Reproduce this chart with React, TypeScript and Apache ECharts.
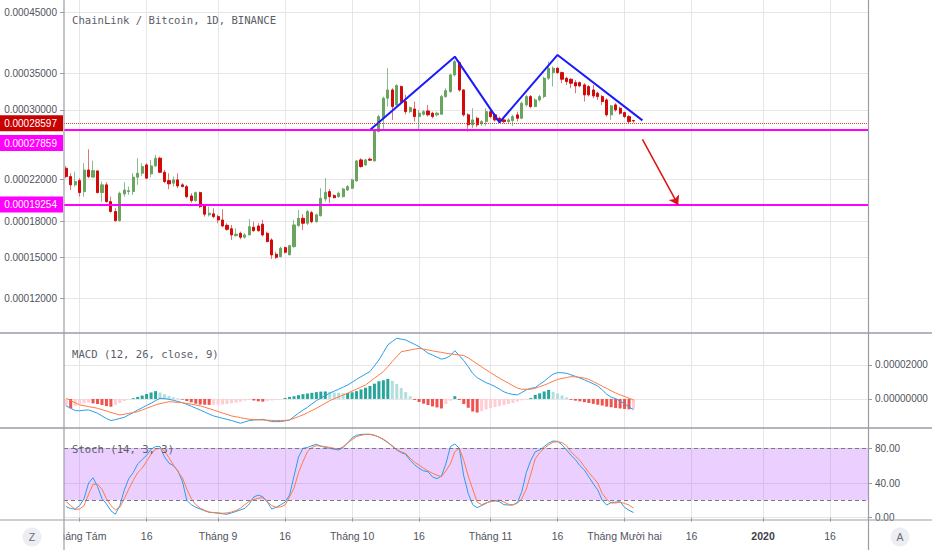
import React, { useEffect, useRef } from "react";
import * as echarts from "echarts";

// ---------- data (prices in units of 0.0001 BTC) ----------
const UNIT = 1e-4;
const MACD_UNIT = 1e-6;
const SCALE_OFFSET = 0.8; // the price scale of the reference is log(price + 0.00008)
const START_DATE = Date.UTC(2019, 6, 29);
const DAY_COUNT = 180;

// [open, close, low, high]
const ohlc: number[][] = [
  [2.315, 2.228, 2.212, 2.34], [2.228, 2.144, 2.093, 2.263], [2.144, 2.177, 2.126, 2.279], [2.187, 2.067, 2.028, 2.212],
  [2.077, 2.297, 2.028, 2.369], [2.297, 2.228, 2.212, 2.524], [2.222, 2.29, 2.222, 2.397], [2.287, 2.067, 2.061, 2.29],
  [2.067, 2.144, 1.98, 2.177], [2.144, 1.98, 1.971, 2.171], [1.98, 1.888, 1.878, 2.028], [1.888, 1.806, 1.797, 1.919],
  [1.806, 2.061, 1.797, 2.077], [2.054, 2.093, 2.028, 2.171], [2.077, 2.086, 2.045, 2.126], [2.077, 2.222, 2.045, 2.263],
  [2.222, 2.263, 2.144, 2.424], [2.263, 2.333, 2.235, 2.369], [2.351, 2.212, 2.201, 2.369], [2.256, 2.34, 2.222, 2.405],
  [2.34, 2.424, 2.333, 2.461], [2.424, 2.273, 2.263, 2.442], [2.273, 2.177, 2.161, 2.297], [2.187, 2.154, 2.1, 2.263],
  [2.161, 2.194, 2.126, 2.228], [2.194, 2.133, 2.11, 2.263], [2.144, 2.126, 2.12, 2.161], [2.126, 2.028, 2.012, 2.144],
  [2.035, 1.99, 1.971, 2.061], [1.99, 2.067, 1.98, 2.077], [2.067, 1.934, 1.919, 2.077], [1.94, 1.864, 1.842, 1.95],
  [1.858, 1.873, 1.842, 1.934], [1.867, 1.842, 1.827, 1.919], [1.842, 1.812, 1.783, 1.858], [1.812, 1.759, 1.748, 1.909],
  [1.765, 1.73, 1.718, 1.783], [1.735, 1.682, 1.64, 1.768], [1.676, 1.688, 1.668, 1.739], [1.696, 1.663, 1.646, 1.71],
  [1.663, 1.682, 1.651, 1.696], [1.682, 1.753, 1.682, 1.821], [1.748, 1.718, 1.71, 1.797], [1.759, 1.718, 1.71, 1.783],
  [1.774, 1.682, 1.668, 1.812], [1.696, 1.626, 1.621, 1.71], [1.64, 1.519, 1.487, 1.654], [1.524, 1.5, 1.487, 1.545],
  [1.505, 1.572, 1.5, 1.585], [1.577, 1.54, 1.529, 1.585], [1.519, 1.593, 1.519, 1.599], [1.585, 1.768, 1.577, 1.812],
  [1.762, 1.827, 1.753, 1.903], [1.827, 1.783, 1.724, 1.864], [1.783, 1.888, 1.768, 1.903], [1.878, 1.797, 1.783, 1.894],
  [1.797, 1.858, 1.788, 1.869], [1.851, 2.012, 1.842, 2.11], [2.005, 2.071, 1.98, 2.212], [2.077, 2.028, 1.965, 2.103],
  [2.038, 2.018, 2.012, 2.051], [2.028, 2.061, 2.018, 2.077], [2.028, 2.103, 2.018, 2.116], [2.093, 2.126, 2.084, 2.144],
  [2.11, 2.194, 2.103, 2.204], [2.184, 2.394, 2.177, 2.405], [2.405, 2.333, 2.322, 2.424], [2.351, 2.405, 2.34, 2.416],
  [2.413, 2.402, 2.394, 2.431], [2.394, 2.738, 2.387, 2.75], [2.73, 2.915, 2.723, 2.937], [2.902, 3.155, 2.75, 3.177],
  [3.155, 3.268, 3.044, 3.581], [3.268, 3.044, 2.873, 3.292], [3.066, 3.329, 3.057, 3.348], [3.315, 3.11, 3.075, 3.329],
  [3.11, 2.978, 2.945, 3.2], [2.978, 3.03, 2.958, 3.044], [3.013, 2.915, 2.852, 3.11], [2.915, 2.958, 2.738, 3.0],
  [2.945, 2.978, 2.928, 3.0], [2.987, 2.937, 2.915, 3.066], [2.958, 2.915, 2.894, 2.978], [2.937, 2.958, 2.915, 2.978],
  [2.945, 3.177, 2.937, 3.2], [3.177, 3.258, 3.163, 3.292], [3.245, 3.482, 3.231, 3.497], [3.482, 3.68, 3.457, 3.706],
  [3.665, 3.268, 3.245, 3.68], [3.268, 2.937, 2.915, 3.278], [2.937, 2.812, 2.73, 2.958], [2.812, 2.873, 2.771, 3.022],
  [2.894, 2.812, 2.783, 2.915], [2.824, 2.852, 2.8, 2.873], [2.852, 2.978, 2.8, 3.022], [2.978, 2.915, 2.894, 3.0],
  [2.937, 2.873, 2.852, 2.958], [2.894, 2.852, 2.832, 2.915], [2.873, 2.852, 2.832, 2.894], [2.852, 2.873, 2.824, 2.894],
  [2.864, 2.915, 2.8, 2.937], [2.937, 2.894, 2.852, 2.978], [2.894, 3.088, 2.882, 3.11], [3.066, 3.177, 3.044, 3.2],
  [3.177, 3.044, 3.022, 3.2], [3.044, 3.132, 3.036, 3.155], [3.132, 3.177, 3.11, 3.2], [3.177, 3.434, 3.155, 3.457],
  [3.434, 3.581, 3.409, 3.68], [3.516, 3.581, 3.315, 3.605], [3.581, 3.516, 3.497, 3.595], [3.516, 3.419, 3.362, 3.53],
  [3.434, 3.385, 3.339, 3.457], [3.419, 3.362, 3.292, 3.434], [3.371, 3.324, 3.223, 3.409], [3.371, 3.324, 3.306, 3.385],
  [3.339, 3.2, 3.11, 3.362], [3.315, 3.2, 3.177, 3.339], [3.268, 3.186, 3.155, 3.339], [3.223, 3.177, 3.132, 3.245],
  [3.177, 3.11, 3.066, 3.2], [3.132, 2.937, 2.915, 3.155], [2.937, 3.053, 2.873, 3.066], [3.066, 3.0, 2.978, 3.088],
  [3.022, 2.958, 2.937, 3.044], [2.966, 2.915, 2.894, 2.978], [2.915, 2.852, 2.832, 2.937], [2.866, 2.8597, 2.84, 2.873],
];

// MACD (12, 26, close, 9), in units of 0.000001
const macdLine = [
  -4.1, -5.5, -6.8, -7.0, -6.6, -6.5, -7.4, -8.4, -10.0, -11.5,
  -12.7, -12.2, -11.5, -10.8, -9.4, -8.0, -6.5, -5.2, -3.8, -2.5,
  -1.0, 0.4, 0.2, -0.2, -0.8, -1.5, -2.2, -3.2, -4.3, -5.4,
  -6.5, -7.7, -8.9, -10.0, -10.7, -11.4, -12.0, -12.7, -13.5, -14.3,
  -13.5, -12.7, -12.4, -12.2, -12.0, -12.7, -13.3, -13.4, -13.3, -12.9,
  -12.4, -10.4, -8.4, -6.6, -4.9, -2.9, -1.0, 0.5, 2.0, 3.4,
  4.6, 5.7, 7.0, 8.2, 9.8, 11.5, 13.1, 14.6, 16.1, 19.5,
  22.9, 27.3, 31.8, 33.8, 35.7, 35.2, 34.7, 33.4, 32.1, 30.8,
  28.9, 26.9, 25.8, 24.6, 23.4, 24.0, 25.5, 28.4, 25.5, 22.5,
  19.0, 15.0, 12.5, 11.0, 9.6, 8.5, 7.3, 5.8, 4.2, 3.2,
  2.7, 2.4, 3.8, 5.4, 6.2, 6.7, 8.6, 10.4, 12.6, 14.6,
  15.5, 15.4, 15.1, 14.2, 13.3, 12.3, 11.2, 10.1, 8.9, 7.6,
  5.3, 2.8, 1.0, 0.2, -1.3, -2.7, -4.8, -6.3,
];
const signalLine = [
  0.4, -1.0, -2.3, -3.5, -4.0, -4.5, -5.0, -5.5, -6.3, -7.1,
  -8.0, -8.7, -9.4, -9.0, -8.5, -8.0, -7.5, -6.5, -5.5, -4.5,
  -3.5, -2.8, -2.2, -1.6, -1.8, -2.0, -2.2, -2.7, -3.1, -3.6,
  -4.1, -4.9, -5.7, -6.5, -7.4, -8.3, -9.1, -10.0, -10.5, -11.0,
  -11.5, -12.0, -12.1, -12.3, -12.4, -12.5, -12.6, -12.7, -12.7, -12.6,
  -12.4, -11.4, -10.4, -9.4, -8.1, -6.8, -5.5, -4.0, -2.5, -1.0,
  0.1, 1.2, 2.3, 3.4, 4.6, 5.8, 7.0, 8.2, 10.2, 12.2,
  14.1, 16.1, 19.0, 22.0, 24.9, 27.8, 28.3, 28.8, 29.3, 29.8,
  29.3, 28.8, 28.3, 27.8, 27.4, 26.9, 26.5, 26.2, 25.9, 25.5,
  24.2, 22.4, 20.6, 18.9, 17.1, 15.5, 13.8, 12.2, 10.7, 9.3,
  7.8, 6.4, 5.7, 5.7, 5.7, 6.3, 7.2, 8.1, 9.2, 10.4,
  11.5, 12.1, 12.6, 13.1, 13.0, 12.7, 12.3, 11.5, 10.2, 8.9,
  7.5, 6.2, 4.8, 3.5, 2.4, 1.5, 0.4, -0.6,
];
const histogram = [
  -4.3, -5.5, -4.0, -3.0, -2.5, -2.2, -2.6, -3.0, -3.6, -4.2,
  -4.6, -3.6, -2.4, -1.2, -0.3, 0.5, 1.2, 2.0, 2.9, 3.8,
  4.6, 3.8, 2.8, 1.8, 1.0, 0.4, -0.4, -1.2, -2.0, -2.8,
  -3.3, -3.4, -3.5, -3.5, -3.4, -3.2, -3.0, -2.6, -2.2, -1.6,
  -1.0, -0.5, -0.9, -1.4, -1.6, -1.2, -0.9, -0.6, -0.2, 0.6,
  1.2, 1.6, 2.2, 2.8, 3.2, 3.6, 4.0, 4.3, 4.4, 4.1,
  3.8, 3.6, 3.4, 3.5, 3.9, 4.6, 5.6, 6.6, 7.6, 9.0,
  10.4, 11.0, 11.8, 10.6, 8.8, 6.4, 4.0, 1.6, -0.6, -1.8,
  -2.8, -3.6, -4.4, -5.0, -5.6, -2.9, -1.0, 1.6, -0.6, -3.0,
  -5.2, -7.4, -8.0, -7.2, -6.2, -5.4, -4.8, -4.3, -3.6, -3.0,
  -2.4, -1.6, -0.8, -0.2, 0.6, 2.4, 3.3, 4.4, 5.3, 4.2,
  3.2, 2.0, 0.9, -0.5, -1.0, -1.4, -1.9, -2.4, -2.9, -3.4,
  -3.9, -4.5, -4.9, -5.3, -5.6, -5.9, -6.1, -5.9,
];

// Stoch (14, 3, 3)
const stochK = [
  12.7, 10.5, 10, 14, 22, 40, 46, 36, 22, 16,
  8, 4, 14, 32, 45, 52, 62, 67, 72, 79,
  82, 82, 70, 63, 60, 54, 42, 20, 15, 12,
  10, 8, 6.2, 5.8, 5.2, 4.5, 3.9, 5.5, 7.2, 9,
  10.8, 16, 24, 26, 24.2, 18.4, 10, 12, 14.8, 18,
  26.2, 48, 70, 80, 81, 83, 84.6, 82.5, 81, 80,
  79, 78, 81, 86, 92, 95, 96, 96.2, 96.1, 95,
  93, 90, 86.5, 83, 78, 75, 73, 66, 61, 57,
  54, 53, 47, 45, 48, 62, 82, 85, 80, 48,
  28, 15, 11.5, 14, 16.6, 19.5, 19.5, 18.4, 15, 14.6,
  14.6, 17.5, 30, 52, 66, 76, 78, 82, 86, 88.4,
  88, 84, 78, 72, 67, 60, 55, 47, 39, 32,
  20, 14.6, 17.5, 18, 18.4, 12, 8.5, 6,
];
const stochD = [
  18.4, 14, 9.5, 10, 14, 27, 38.5, 38.5, 33, 22,
  14, 9, 12, 22, 33, 43, 52, 57, 65, 73,
  79, 80, 77, 69, 61, 53, 46, 33, 22, 15,
  11, 8.5, 6.5, 6, 5.5, 5.1, 5.5, 6.5, 8.2, 11,
  15, 19, 21, 22.5, 23.1, 18.5, 14, 12, 12.5, 14.6,
  24, 34, 52, 64.6, 76, 81, 83, 82.5, 82, 81,
  80, 79, 82, 86, 90, 93.5, 95, 96, 96.1, 95,
  93, 90.5, 87, 82, 78.5, 76, 74, 68.5, 64, 60.7,
  57, 54, 51.2, 49, 47.3, 54, 62, 76, 80, 66,
  48, 33, 18, 15, 17, 18.5, 19.5, 20.4, 18, 15.5,
  15, 16.6, 22, 33, 50, 68, 75, 80, 84, 87,
  87.6, 86.5, 83, 76, 71, 66, 59, 52, 46, 40,
  28, 21, 17, 17, 17.8, 16.5, 14.6, 11,
];

// axes
const priceTicks = [4.5, 3.5, 3.0, 2.2, 1.8, 1.5, 1.2];
const priceRange = [0.977, 4.727];
const macdTicks = [0, 20];
const macdRange = [-17.1, 38.8];
const stochTicks = [0, 40, 80];
const stochRange = [-2.65, 103.4];
const stochBand = [20, 80];
const xTickDates = [
  "2019-08-01", "2019-08-16", "2019-09-01", "2019-09-16", "2019-10-01", "2019-10-16",
  "2019-11-01", "2019-11-16", "2019-12-01", "2019-12-16", "2020-01-01", "2020-01-16",
];
const xTickTexts = [
  "Tháng Tám", "16", "Tháng 9", "16", "Tháng 10", "16",
  "Tháng 11", "16", "Tháng Mười hai", "16", "2020", "16",
];

// drawings
const levelPrices = [2.8597, 2.7859, 1.9254];
const patternDates = ["2019-10-05", "2019-10-24", "2019-11-03", "2019-11-16", "2019-12-05"];
const patternPrices = [2.749, 3.757, 2.843, 3.783, 2.867];
const arrowDates = ["2019-12-05", "2019-12-13"];
const arrowPrices = [2.638, 1.949];

// ---------- helpers ----------
const tr = (p: number) => Math.log10(p + SCALE_OFFSET);
const untr = (t: number) => Math.pow(10, t) - SCALE_OFFSET;
const fmtPrice = (p: number) => (p * UNIT).toFixed(8);

const categories = Array.from({ length: DAY_COUNT }, (_, i) =>
  new Date(START_DATE + i * 86400000).toISOString().slice(0, 10)
);
const tickText: Record<string, string> = {};
xTickDates.forEach((d, i) => (tickText[d] = xTickTexts[i]));
const isTick = (_i: number, v: string) => v in tickText;

const SANS = "'Liberation Sans', Arial, sans-serif";
const MONO = "'DejaVu Sans Mono', 'Liberation Mono', monospace";
const LABEL_COLOR = "#50535e";
const GRID_COLOR = "#e6e6e8";
const FRAME_COLOR = "#9a9da6";
const UP = "#6aa55f";
const DN = "#d20a0a";
const WICK_UP = "#86bf8f";
const WICK_DN = "#e27474";
const BLUE = "#2b9de8";
const ORANGE = "#ff7a45";
const LABEL_SIZE = 10;

const histColor = (i: number) => {
  const v = histogram[i];
  const prev = i > 0 ? histogram[i - 1] : v;
  if (v >= 0) return v > prev ? "#26a69a" : "#b2dfdb";
  return v < prev ? "#ef5350" : "#ffcdd2";
};

const makeX = (gridIndex: number, showLabels: boolean) => ({
  type: "category",
  gridIndex,
  data: categories,
  boundaryGap: true,
  axisLine: { show: false },
  axisTick: {
    show: showLabels,
    interval: isTick,
    alignWithLabel: true,
    length: 4,
    lineStyle: { color: FRAME_COLOR },
  },
  axisLabel: {
    show: showLabels,
    interval: isTick,
    margin: 10,
    color: LABEL_COLOR,
    fontFamily: SANS,
    fontSize: 10.5,
    formatter: (v: string) => {
      const t = tickText[v] || "";
      return /^\d{4}$/.test(t) ? `{b|${t}}` : t;
    },
    rich: { b: { fontWeight: "bold", fontFamily: SANS, fontSize: 10.5, color: "#3b3e48" } },
  },
  splitLine: {
    show: true,
    interval: isTick,
    alignWithLabel: true,
    lineStyle: { color: GRID_COLOR, width: 1 },
  },
});

const valueAxis = (
  gridIndex: number,
  position: string,
  range: number[],
  ticks: number[],
  formatter: (v: number) => string
) => ({
  type: "value",
  gridIndex,
  position,
  min: range[0],
  max: range[1],
  axisLine: { show: false },
  axisTick: { show: true, customValues: ticks, length: 4, lineStyle: { color: FRAME_COLOR } },
  axisLabel: {
    customValues: ticks,
    formatter,
    margin: 7,
    color: LABEL_COLOR,
    fontFamily: SANS,
    fontSize: LABEL_SIZE,
  },
  splitLine: { show: true, lineStyle: { color: GRID_COLOR, width: 1 } },
});

const tagLabel = (bg: string, p: number, offsetY: number) => ({
  show: true,
  position: "start",
  distance: 1,
  formatter: () => fmtPrice(p),
  color: "#ffffff",
  backgroundColor: bg,
  fontFamily: SANS,
  fontSize: LABEL_SIZE,
  padding: [3, 6, 3, 5],
  offset: [0, offsetY],
});

const option: any = {
  animation: false,
  backgroundColor: "#ffffff",
  grid: [
    { left: 64, right: 64, top: 0, height: 333, containLabel: false, outerBoundsMode: "none" },
    { left: 64, right: 64, top: 333, height: 95, containLabel: false, outerBoundsMode: "none" },
    { left: 64, right: 64, top: 428, height: 92, containLabel: false, outerBoundsMode: "none" },
  ],
  xAxis: [makeX(0, false), makeX(1, false), makeX(2, true)],
  yAxis: [
    valueAxis(0, "left", priceRange.map(tr), priceTicks.map(tr), (v) => fmtPrice(untr(v))),
    valueAxis(1, "right", macdRange, macdTicks, (v) => (v * MACD_UNIT).toFixed(8)),
    valueAxis(2, "right", stochRange, stochTicks, (v) => v.toFixed(2)),
  ],
  series: [
    {
      name: "wicks",
      type: "candlestick",
      xAxisIndex: 0,
      yAxisIndex: 0,
      barWidth: 1,
      silent: true,
      data: ohlc.map(([o, c, l, h]) => [tr(o), tr(c), tr(l), tr(h)]),
      itemStyle: { color: WICK_UP, color0: WICK_DN, borderColor: WICK_UP, borderColor0: WICK_DN, borderWidth: 1 },
    },
    {
      name: "ChainLink / Bitcoin",
      type: "candlestick",
      xAxisIndex: 0,
      yAxisIndex: 0,
      barWidth: 2.6,
      data: ohlc.map(([o, c]) => [tr(o), tr(c), tr(Math.min(o, c)), tr(Math.max(o, c))]),
      itemStyle: { color: UP, color0: DN, borderColor: UP, borderColor0: DN, borderWidth: 1 },
    },
    {
      name: "pattern",
      type: "line",
      xAxisIndex: 0,
      yAxisIndex: 0,
      symbol: "none",
      data: patternDates.map((d, i) => [d, tr(patternPrices[i])]),
      lineStyle: { color: "#1a1aff", width: 2 },
      markLine: {
        silent: true,
        symbol: "none",
        data: [
          {
            yAxis: tr(levelPrices[0]),
            lineStyle: { color: "#e53935", type: "dotted", width: 1 },
            label: tagLabel("#c80000", levelPrices[0], 0),
          },
          {
            yAxis: tr(levelPrices[1]),
            lineStyle: { color: "#ff00ff", type: "solid", width: 2 },
            label: tagLabel("#ff00ff", levelPrices[1], 13),
          },
          {
            yAxis: tr(levelPrices[2]),
            lineStyle: { color: "#ff00ff", type: "solid", width: 2 },
            label: tagLabel("#ff00ff", levelPrices[2], 0),
          },
          [
            {
              coord: [arrowDates[0], tr(arrowPrices[0])],
              symbol: "none",
              lineStyle: { color: "#dd1111", type: "solid", width: 1.5 },
              label: { show: false },
            },
            { coord: [arrowDates[1], tr(arrowPrices[1])], symbol: "arrow", symbolSize: 9 },
          ],
        ],
      },
    },
    {
      name: "Histogram",
      type: "bar",
      xAxisIndex: 1,
      yAxisIndex: 1,
      barWidth: 3,
      data: histogram.map((v, i) => ({ value: v, itemStyle: { color: histColor(i) } })),
    },
    {
      name: "MACD",
      type: "line",
      xAxisIndex: 1,
      yAxisIndex: 1,
      symbol: "none",
      data: macdLine,
      lineStyle: { color: BLUE, width: 1 },
    },
    {
      name: "Signal",
      type: "line",
      xAxisIndex: 1,
      yAxisIndex: 1,
      symbol: "none",
      data: signalLine,
      lineStyle: { color: ORANGE, width: 1 },
    },
    {
      name: "%K",
      type: "line",
      xAxisIndex: 2,
      yAxisIndex: 2,
      symbol: "none",
      data: stochK,
      lineStyle: { color: BLUE, width: 1 },
      markArea: {
        silent: true,
        itemStyle: { color: "rgba(153, 21, 255, 0.2)" },
        data: [[{ yAxis: stochBand[0] }, { yAxis: stochBand[1] }]],
      },
      markLine: {
        silent: true,
        symbol: "none",
        label: { show: false },
        lineStyle: { color: "#787b86", type: [4, 3], width: 1 },
        data: [{ yAxis: stochBand[0] }, { yAxis: stochBand[1] }],
      },
    },
    {
      name: "%D",
      type: "line",
      xAxisIndex: 2,
      yAxisIndex: 2,
      symbol: "none",
      data: stochD,
      lineStyle: { color: ORANGE, width: 1 },
    },
  ],
  graphic: [
    { type: "rect", z: 100, shape: { x: 0, y: 521, width: 63.5, height: 29 }, style: { fill: "#ffffff" } },
    { type: "line", z: 101, shape: { x1: 64, y1: 0, x2: 64, y2: 550 }, style: { stroke: FRAME_COLOR, lineWidth: 1.2 } },
    { type: "line", z: 101, shape: { x1: 868.5, y1: 0, x2: 868.5, y2: 550 }, style: { stroke: FRAME_COLOR, lineWidth: 1.2 } },
    { type: "line", z: 101, shape: { x1: 0, y1: 333, x2: 932, y2: 333 }, style: { stroke: FRAME_COLOR, lineWidth: 1.5 } },
    { type: "line", z: 101, shape: { x1: 0, y1: 428, x2: 932, y2: 428 }, style: { stroke: FRAME_COLOR, lineWidth: 1.5 } },
    { type: "line", z: 101, shape: { x1: 0, y1: 520, x2: 932, y2: 520 }, style: { stroke: FRAME_COLOR, lineWidth: 1.2 } },
    {
      type: "text", z: 101, x: 72, y: 20,
      style: { text: "ChainLink / Bitcoin, 1D, BINANCE", font: `10.6px ${MONO}`, fill: "#5b5e69", verticalAlign: "middle" },
    },
    {
      type: "text", z: 101, x: 72, y: 353.5,
      style: { text: "MACD (12, 26, close, 9)", font: `10.6px ${MONO}`, fill: "#5b5e69", verticalAlign: "middle" },
    },
    {
      type: "text", z: 101, x: 72, y: 449,
      style: { text: "Stoch (14, 3, 3)", font: `10.6px ${MONO}`, fill: "#5b5e69", verticalAlign: "middle" },
    },
    { type: "circle", z: 102, shape: { cx: 32, cy: 537, r: 9.5 }, style: { fill: "#eceef2" } },
    {
      type: "text", z: 103, x: 32, y: 537,
      style: { text: "Z", font: `10.5px ${SANS}`, fill: "#6a6d78", align: "center", verticalAlign: "middle" },
    },
    { type: "circle", z: 102, shape: { cx: 900, cy: 537, r: 9.5 }, style: { fill: "#eceef2" } },
    {
      type: "text", z: 103, x: 900, y: 537,
      style: { text: "A", font: `10.5px ${SANS}`, fill: "#6a6d78", align: "center", verticalAlign: "middle" },
    },
  ],
};

export default function App() {
  const ref = useRef<HTMLDivElement>(null);
  useEffect(() => {
    if (!ref.current) return;
    const chart = echarts.init(ref.current, null, { renderer: "svg" });
    chart.setOption(option);
    return () => chart.dispose();
  }, []);
  return (
    <div
      ref={ref}
      style={{ position: "absolute", left: 0, top: 0, width: 932, height: 550, background: "#ffffff" }}
    />
  );
}
